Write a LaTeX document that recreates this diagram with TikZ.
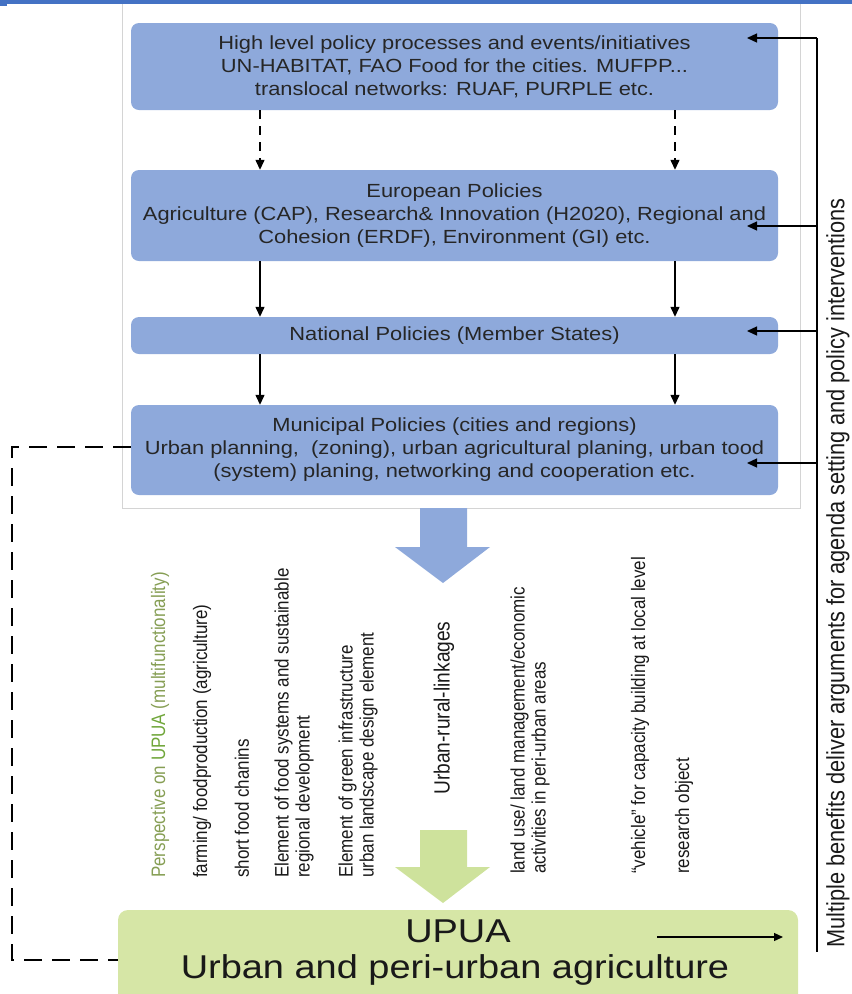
\documentclass[tikz,border=0pt]{standalone}
\usepackage{fontspec}
\setmainfont{Liberation Sans}
\newfontfamily\widefnt[FakeStretch=1.15]{Liberation Sans}
\newfontfamily\narrowfnt[FakeStretch=0.87]{Liberation Sans}
\usetikzlibrary{arrows.meta}
\definecolor{topblue}{RGB}{68,114,196}
\definecolor{boxblue}{RGB}{142,169,219}
\definecolor{framegray}{RGB}{212,212,212}
\definecolor{boxgreen}{RGB}{214,230,166}
\definecolor{arrgreen}{RGB}{206,226,156}
\definecolor{pgreen}{RGB}{134,158,84}
\definecolor{ugreen}{RGB}{112,166,58}
\tikzset{
  polbox/.style={rectangle, rounded corners=8pt, fill=boxblue, draw=none, inner sep=0pt,
    minimum width=647pt, align=center, font=\widefnt\fontsize{19pt}{23pt}\selectfont, text=black!85},
  arr/.style={line width=1.3pt, -{Triangle[length=10pt,width=9pt]}},
  darr/.style={arr, dash pattern=on 9pt off 7pt},
  ldash/.style={line width=1.4pt, dash pattern=on 18pt off 10pt},
  rotitem/.style={rotate=90, anchor=west, inner sep=0pt, align=left,
    font=\narrowfnt\fontsize{19.5pt}{21pt}\selectfont, text=black!90},
}
\begin{document}
\begin{tikzpicture}[x=1pt,y=-1pt]
\useasboundingbox (0,0) rectangle (852,994);
% frame and top strip
\draw[framegray, line width=1pt] (122,-4) rectangle (800,508);
\fill[topblue] (0,0) rectangle (852,4);
\fill[topblue] (0,0) rectangle (7,6);
% policy boxes
\node[polbox, minimum height=87pt] (b1) at (454.5,66.5)
  {High level policy processes and events/initiatives\\UN-HABITAT, FAO Food for the cities. MUFPP...\\translocal networks: RUAF, PURPLE etc.};
\node[polbox, minimum height=91pt] (b2) at (454.5,215.5)
  {European Policies\\Agriculture (CAP), Research\& Innovation (H2020), Regional and\\Cohesion (ERDF), Environment (GI) etc.};
\node[polbox, minimum height=37pt] (b3) at (454.5,335.5)
  {National Policies (Member States)};
\node[polbox, minimum height=90pt] (b4) at (454.5,450)
  {Municipal Policies (cities and regions)\\Urban planning,\ \ (zoning), urban agricultural planing, urban tood\\(system) planing, networking and cooperation etc.};
% vertical connectors between boxes
\coordinate (xL) at (260,0);
\coordinate (xR) at (675,0);
\draw[darr] (b1.south -| xL) -- (b2.north -| xL);
\draw[darr] (b1.south -| xR) -- (b2.north -| xR);
\draw[arr] (b2.south -| xL) -- (b3.north -| xL);
\draw[arr] (b2.south -| xR) -- (b3.north -| xR);
\draw[arr] (b3.south -| xL) -- (b4.north -| xL);
\draw[arr] (b3.south -| xR) -- (b4.north -| xR);
% right feedback line
\coordinate (tipx) at (747,0);
\coordinate (r1) at (817,38);
\coordinate (r2) at (817,226);
\coordinate (r3) at (817,331);
\coordinate (r4) at (817,463);
\coordinate (rb) at (817,952);
\draw[line width=1.3pt] (r1) -- (rb);
\draw[arr] (r1) -- (r1 -| tipx);
\draw[arr] (r2) -- (r2 -| tipx);
\draw[arr] (r3) -- (r3 -| tipx);
\draw[arr] (r4) -- (r4 -| tipx);
\node[rotate=90, anchor=west, inner sep=0pt, font=\narrowfnt\fontsize{25pt}{27pt}\selectfont, text=black!90] (bene) at (838,948)
  {Multiple benefits deliver arguments for agenda setting and policy interventions};
% big arrows
\fill[boxblue] (420,508) -- (467,508) -- (467,547) -- (490,547) -- (443,583) -- (395,547) -- (420,547) -- cycle;
\fill[arrgreen] (420,830) -- (467,830) -- (467,867) -- (490,867) -- (443,903) -- (395,867) -- (420,867) -- cycle;
% UPUA box
\begin{scope}
\clip (0,0) rectangle (852,994);
\node[rectangle, rounded corners=10pt, fill=boxgreen, minimum width=680pt, minimum height=100pt, inner sep=0pt] (up) at (458,960) {};
\end{scope}
\node[inner sep=0pt, font=\widefnt\fontsize{33pt}{36pt}\selectfont, text=black!90] (upt) at (458,931) {UPUA};
\node[inner sep=0pt, font=\widefnt\fontsize{33pt}{36pt}\selectfont, text=black!90] (ups) at (455,970) {Urban and peri-urban agriculture};
\coordinate (ua1) at (657,937);
\coordinate (ua2) at (783,937);
\draw[line width=1.3pt, -{Triangle[length=9pt,width=8pt]}] (ua1) -- (ua2);
% dashed link
\coordinate (dl) at (12,447);
\draw[ldash] ([yshift=3pt]b4.west) -- (dl) -- (dl |- up.west) -- (up.west);
% rotated items
\node[rotitem, text=pgreen] (i1) at (160,878) {Perspective on \textcolor{ugreen}{UPUA} (multifunctionality)};
\node[rotitem] (i2) at (202,878) {farming/ foodproduction (agriculture)};
\node[rotitem] (i3) at (242,878) {short food chanins};
\node[rotitem] (i4) at (294,878) {Element of food systems and sustainable\\regional development};
\node[rotitem] (i5) at (358,878) {Element of green infrastructure\\urban landscape design element};
\node[rotitem, font=\narrowfnt\fontsize{22pt}{24pt}\selectfont] (i6) at (444,795) {Urban-rural-linkages};
\node[rotitem] (i7) at (530,874) {land use/ land management/economic\\activities in peri-urban areas};
\node[rotitem] (i8) at (640,874) {“vehicle” for capacity building at local level};
\node[rotitem] (i9) at (684,874) {research object};
\end{tikzpicture}
\end{document}
